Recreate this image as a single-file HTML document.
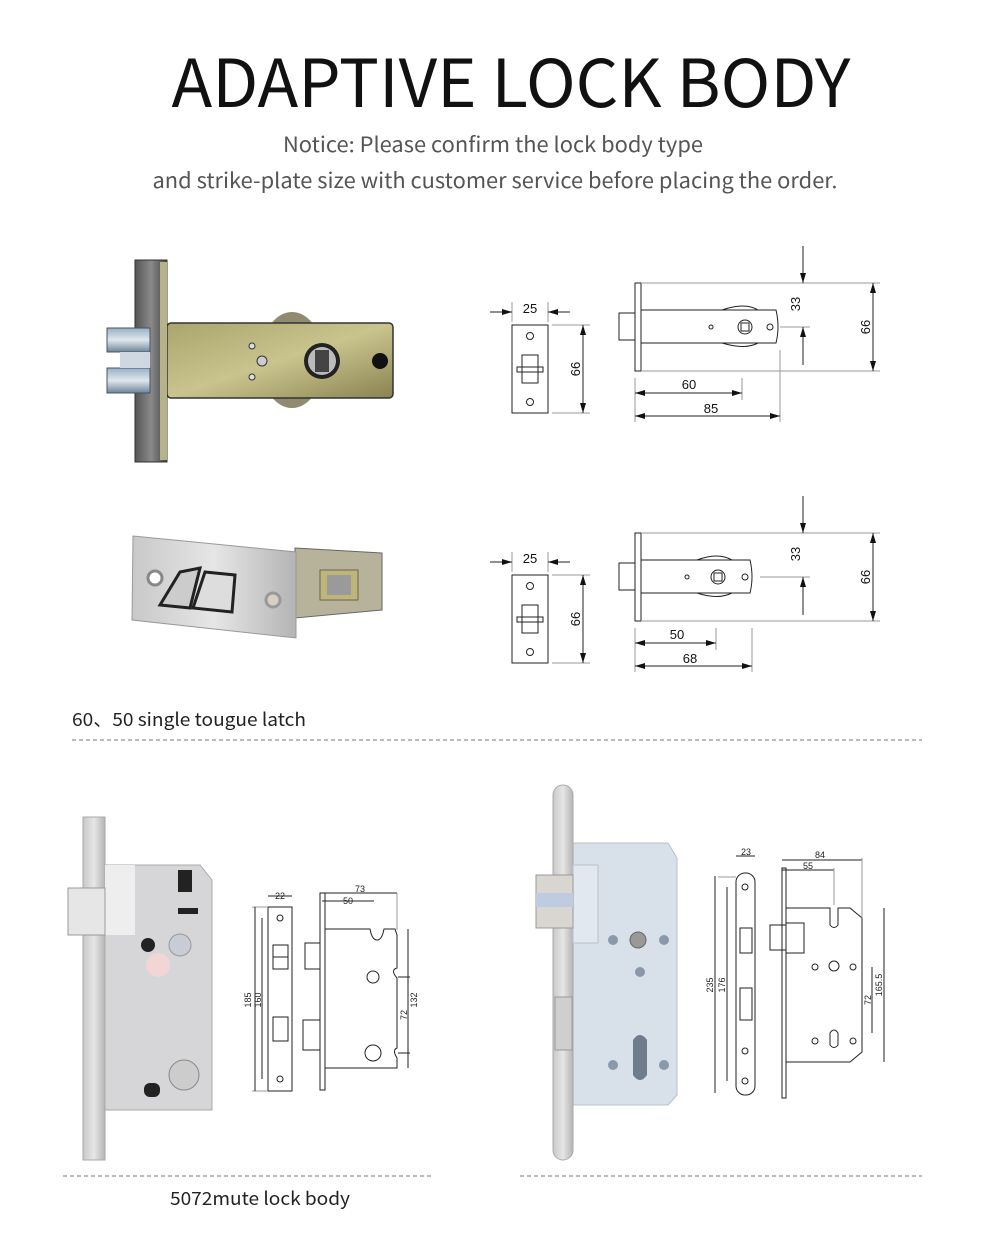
<!DOCTYPE html>
<html><head><meta charset="utf-8"><style>
html,body{margin:0;padding:0;background:#fff;}
svg{display:block;}
.cj{font-family:"Noto Sans CJK SC","Liberation Sans",sans-serif;}
</style></head><body>
<svg width="990" height="1235" viewBox="0 0 990 1235" xmlns="http://www.w3.org/2000/svg" font-family="Liberation Sans, sans-serif">
<defs>
<marker id="a" viewBox="0 0 10 6" refX="10" refY="3" markerWidth="10" markerHeight="6" markerUnits="userSpaceOnUse" orient="auto-start-reverse"><path d="M0,0L10,3L0,6z" fill="#111"/></marker>
<linearGradient id="brass" x1="0" y1="0" x2="1" y2="1"><stop offset="0" stop-color="#aaa56c"/><stop offset="0.5" stop-color="#c9c48e"/><stop offset="1" stop-color="#8a8352"/></linearGradient>
<linearGradient id="dk" x1="0" x2="1"><stop offset="0" stop-color="#555"/><stop offset="0.5" stop-color="#8a8a8a"/><stop offset="1" stop-color="#444"/></linearGradient>
<linearGradient id="chrome" x1="0" y1="0" x2="0" y2="1"><stop offset="0" stop-color="#9ab0c4"/><stop offset="0.5" stop-color="#dfe7ee"/><stop offset="1" stop-color="#6f8496"/></linearGradient>
<linearGradient id="steel" x1="0" x2="1"><stop offset="0" stop-color="#c8c8c8"/><stop offset="0.5" stop-color="#e6e6e6"/><stop offset="1" stop-color="#b4b4b4"/></linearGradient>
</defs>

<text class="cj" x="511" y="107" font-size="66" text-anchor="middle" textLength="679" lengthAdjust="spacingAndGlyphs" fill="#111">ADAPTIVE LOCK BODY</text>
<text class="cj" x="493" y="152" font-size="21" text-anchor="middle" textLength="420" lengthAdjust="spacingAndGlyphs" fill="#555">Notice: Please confirm the lock body type</text>
<text class="cj" x="495" y="188" font-size="21" text-anchor="middle" textLength="685" lengthAdjust="spacingAndGlyphs" fill="#555">and strike-plate size with customer service before placing the order.</text>

<!-- photo 1 -->
<ellipse cx="292" cy="360" rx="32" ry="48" fill="#8f8a70"/>
<rect x="167" y="323" width="226" height="75" rx="4" fill="url(#brass)" stroke="#333" stroke-width="1.5"/>
<rect x="135" y="260" width="32" height="202" fill="url(#dk)" stroke="#333"/>
<rect x="160" y="262" width="7" height="198" fill="#b7b28a"/>
<rect x="107" y="328" width="43" height="24" fill="url(#chrome)" stroke="#456"/>
<rect x="107" y="368" width="43" height="25" fill="url(#chrome)" stroke="#456"/>
<rect x="120" y="352" width="30" height="16" fill="#cfd8e0"/>
<circle cx="322" cy="361" r="18" fill="#222"/><circle cx="322" cy="361" r="14" fill="#bbb"/><rect x="315" y="350" width="14" height="22" fill="#444"/>
<circle cx="380" cy="361" r="8" fill="#111"/>
<circle cx="262" cy="361" r="5" fill="#ccc" stroke="#333"/><circle cx="252" cy="346" r="3" fill="#ddd" stroke="#333"/><circle cx="252" cy="377" r="3" fill="#ddd" stroke="#333"/>

<!-- photo 2 -->
<polygon points="295,548 382,553 382,610 295,618" fill="#b7b39b" stroke="#666"/>
<rect x="320" y="570" width="38" height="30" fill="#bfb57a" stroke="#665" />
<rect x="327" y="575" width="24" height="20" fill="#9a9a9a"/>
<polygon points="133,536 296,552 296,638 132,620" fill="url(#steel)" stroke="#999"/>
<circle cx="155" cy="578" r="7" fill="#fff" stroke="#888" stroke-width="3"/>
<circle cx="273" cy="600" r="7" fill="#d8d0c0" stroke="#999" stroke-width="3"/>
<path d="M160,605 L180,572 L200,568 L190,608 Z" fill="#ccc" stroke="#222" stroke-width="3"/>
<path d="M193,608 L205,572 L235,575 L232,612 Z" fill="#ddd" stroke="#222" stroke-width="3"/>

<!-- drawing 1 -->
<g fill="none" stroke="#222" stroke-width="1">
<rect x="512" y="325" width="36" height="88"/>
<circle cx="530" cy="336" r="3.5"/><circle cx="530" cy="402" r="3.5"/>
<path d="M522,355 h16 v28 h-16z M517,367 h26 v5 h-26z"/>
<line x1="552" y1="325" x2="590" y2="325" stroke="#999"/><line x1="552" y1="413" x2="590" y2="413" stroke="#999"/>
<line x1="583" y1="325" x2="583" y2="413" marker-start="url(#a)" marker-end="url(#a)"/>
<line x1="512" y1="302" x2="512" y2="322" stroke="#999"/><line x1="548" y1="302" x2="548" y2="322" stroke="#999"/>
<line x1="490" y1="312" x2="512" y2="312" marker-end="url(#a)"/><line x1="570" y1="312" x2="548" y2="312" marker-end="url(#a)"/>
<rect x="635" y="283" width="6" height="88"/>
<rect x="619" y="313" width="16" height="27"/>
<path d="M641,310 H776 Q780,327 776,343 H641"/>
<circle cx="745" cy="327" r="7"/><rect x="741" y="323" width="8" height="8"/><circle cx="770" cy="327" r="3"/><circle cx="711" cy="327" r="2"/>
<path d="M722,310 Q745,302 758,310 M722,343 Q745,350 758,343"/>
<line x1="641" y1="283" x2="880" y2="283" stroke="#999"/><line x1="641" y1="371" x2="880" y2="371" stroke="#999"/>
<line x1="780" y1="327" x2="810" y2="327" stroke="#999"/>
<line x1="803" y1="246" x2="803" y2="283" marker-end="url(#a)"/>
<line x1="803" y1="365" x2="803" y2="327" marker-end="url(#a)"/>
<line x1="873" y1="283" x2="873" y2="371" marker-start="url(#a)" marker-end="url(#a)"/>
<line x1="635" y1="378" x2="635" y2="422" stroke="#999"/><line x1="742" y1="378" x2="742" y2="400" stroke="#999"/><line x1="780" y1="350" x2="780" y2="422" stroke="#999"/>
<line x1="635" y1="393" x2="742" y2="393" marker-start="url(#a)" marker-end="url(#a)"/>
<line x1="635" y1="416" x2="780" y2="416" marker-start="url(#a)" marker-end="url(#a)"/>
</g>
<g font-size="13" fill="#111" text-anchor="middle">
<text x="530" y="313">25</text><text x="689" y="389">60</text><text x="711" y="413">85</text>
<text transform="translate(580,369) rotate(-90)">66</text>
<text transform="translate(800,304) rotate(-90)">33</text>
<text transform="translate(870,327) rotate(-90)">66</text>
</g>

<!-- drawing 2 -->
<g fill="none" stroke="#222" stroke-width="1" transform="translate(0,250)">
<rect x="512" y="325" width="36" height="88"/>
<circle cx="530" cy="336" r="3.5"/><circle cx="530" cy="402" r="3.5"/>
<path d="M522,355 h16 v28 h-16z M517,367 h26 v5 h-26z"/>
<line x1="552" y1="325" x2="590" y2="325" stroke="#999"/><line x1="552" y1="413" x2="590" y2="413" stroke="#999"/>
<line x1="583" y1="325" x2="583" y2="413" marker-start="url(#a)" marker-end="url(#a)"/>
<line x1="512" y1="302" x2="512" y2="322" stroke="#999"/><line x1="548" y1="302" x2="548" y2="322" stroke="#999"/>
<line x1="490" y1="312" x2="512" y2="312" marker-end="url(#a)"/><line x1="570" y1="312" x2="548" y2="312" marker-end="url(#a)"/>
<rect x="635" y="283" width="6" height="88"/>
<rect x="619" y="313" width="16" height="27"/>
<path d="M641,310 H750 Q754,327 750,343 H641"/>
<circle cx="718" cy="327" r="7"/><rect x="714" y="323" width="8" height="8"/><circle cx="745" cy="327" r="3"/><circle cx="687" cy="327" r="2"/>
<path d="M697,310 Q718,302 732,310 M697,343 Q718,350 732,343"/>
<line x1="641" y1="283" x2="880" y2="283" stroke="#999"/><line x1="641" y1="371" x2="880" y2="371" stroke="#999"/>
<line x1="760" y1="327" x2="810" y2="327" stroke="#999"/>
<line x1="803" y1="246" x2="803" y2="283" marker-end="url(#a)"/>
<line x1="803" y1="365" x2="803" y2="327" marker-end="url(#a)"/>
<line x1="873" y1="283" x2="873" y2="371" marker-start="url(#a)" marker-end="url(#a)"/>
<line x1="635" y1="378" x2="635" y2="422" stroke="#999"/><line x1="716" y1="378" x2="716" y2="400" stroke="#999"/><line x1="752" y1="378" x2="752" y2="422" stroke="#999"/>
<line x1="635" y1="393" x2="716" y2="393" marker-start="url(#a)" marker-end="url(#a)"/>
<line x1="635" y1="416" x2="752" y2="416" marker-start="url(#a)" marker-end="url(#a)"/>
</g>
<g font-size="13" fill="#111" text-anchor="middle">
<text x="530" y="563">25</text><text x="677" y="639">50</text><text x="690" y="663">68</text>
<text transform="translate(580,619) rotate(-90)">66</text>
<text transform="translate(800,554) rotate(-90)">33</text>
<text transform="translate(870,577) rotate(-90)">66</text>
</g>

<text class="cj" x="72" y="726" font-size="18" fill="#222" textLength="234" lengthAdjust="spacingAndGlyphs">60、50 single tougue latch</text>
<line x1="72" y1="740" x2="922" y2="740" stroke="#777" stroke-dasharray="4,3"/>

<!-- photo 3 -->
<polygon points="105,865 200,865 212,880 212,1110 105,1110" fill="#d6d6d8" stroke="#aaa"/>
<rect x="83" y="817" width="22" height="343" fill="url(#steel)" stroke="#aaa"/>
<rect x="105" y="865" width="30" height="70" fill="#eeeeee"/>
<rect x="68" y="888" width="37" height="47" fill="#e6e6e6" stroke="#999"/>
<circle cx="180" cy="945" r="11" fill="#c8ccd4" stroke="#999"/>
<circle cx="148" cy="945" r="7" fill="#222"/>
<circle cx="158" cy="965" r="12" fill="#f2d6d6"/>
<rect x="178" y="908" width="20" height="6" fill="#222"/>
<rect x="178" y="870" width="14" height="22" fill="#222"/>
<circle cx="184" cy="1075" r="15" fill="#ccc" stroke="#888"/>
<rect x="144" y="1083" width="16" height="14" rx="6" fill="#222"/>

<!-- drawing 3 -->
<g fill="none" stroke="#222" stroke-width="1">
<rect x="268" y="907" width="24" height="184"/>
<circle cx="280" cy="918" r="3"/><circle cx="280" cy="1079" r="3"/>
<rect x="273" y="945" width="15" height="24"/><line x1="273" y1="957" x2="288" y2="957"/>
<rect x="273" y="1017" width="15" height="24"/>
<line x1="252" y1="907" x2="268" y2="907" stroke="#999"/><line x1="252" y1="1091" x2="268" y2="1091" stroke="#999"/>
<line x1="255" y1="907" x2="255" y2="1091"/>
<line x1="262" y1="918" x2="262" y2="1079"/>
<line x1="268" y1="896" x2="292" y2="896"/>
<rect x="320" y="893" width="5" height="197"/>
<path d="M325,929 H370 Q372,940 377,940 Q382,940 384,929 H395 L397,935 V968 Q390,970 397,978 V1048 Q392,1050 397,1058 V1068 H325"/>
<rect x="305" y="943" width="15" height="26"/><rect x="303" y="1020" width="17" height="30"/>
<circle cx="373" cy="977" r="6"/><circle cx="373" cy="1053" r="8"/>
<line x1="322" y1="893" x2="397" y2="893"/><line x1="322" y1="901" x2="374" y2="901"/>
<line x1="397" y1="893" x2="397" y2="930" stroke="#999"/>
<line x1="408" y1="929" x2="408" y2="1068"/><line x1="398" y1="977" x2="410" y2="977"/><line x1="398" y1="1053" x2="410" y2="1053"/>
</g>
<g font-size="9" fill="#222" text-anchor="middle">
<text x="280" y="899">22</text><text x="360" y="892">73</text><text x="348" y="904">50</text>
<text transform="translate(251,1000) rotate(-90)">185</text>
<text transform="translate(261,1000) rotate(-90)">160</text>
<text transform="translate(407,1015) rotate(-90)">72</text>
<text transform="translate(417,1000) rotate(-90)">132</text>
</g>

<!-- photo 4 -->
<polygon points="573,843 668,843 677,858 677,1095 668,1105 573,1105" fill="#d8e0ea" stroke="#b8c0ca"/>
<rect x="553" y="785" width="20" height="375" rx="10" fill="url(#steel)" stroke="#aaa"/>
<rect x="573" y="865" width="25" height="78" fill="#e2e8f0" stroke="#b8c0ca"/>
<rect x="536" y="875" width="37" height="53" fill="#d9d6d2" stroke="#999"/>
<rect x="536" y="893" width="37" height="14" fill="#bfcbe0"/>
<circle cx="638" cy="940" r="8" fill="#999" stroke="#666"/>
<circle cx="613" cy="940" r="5" fill="#8a98aa"/><circle cx="664" cy="940" r="5" fill="#8a98aa"/><circle cx="640" cy="972" r="5" fill="#8a98aa"/>
<circle cx="613" cy="1065" r="5" fill="#8a98aa"/><circle cx="664" cy="1065" r="5" fill="#8a98aa"/>
<path d="M633,1040 Q640,1030 647,1040 V1075 Q640,1085 633,1075 Z" fill="#6f7c8c"/>
<rect x="555" y="997" width="17" height="53" fill="#cfcfcf" stroke="#999"/>

<!-- drawing 4 -->
<g fill="none" stroke="#222" stroke-width="1">
<rect x="736" y="873" width="19" height="222" rx="9"/>
<circle cx="745" cy="887" r="3"/><circle cx="745" cy="1051" r="3"/><circle cx="745" cy="1081" r="3"/>
<rect x="740" y="928" width="12" height="25"/><rect x="740" y="988" width="12" height="32"/>
<line x1="718" y1="877" x2="736" y2="877" stroke="#999"/>
<line x1="715" y1="876" x2="715" y2="1093"/><line x1="727" y1="887" x2="727" y2="1081"/>
<line x1="736" y1="856" x2="755" y2="856"/>
<rect x="782" y="868" width="4" height="230"/>
<path d="M786,908 H830 V925 Q834,930 838,925 V908 H850 L862,918 V1052 L850,1062 H786"/>
<rect x="770" y="925" width="16" height="25"/><rect x="786" y="923" width="18" height="30"/>
<circle cx="834" cy="966" r="5"/><circle cx="815" cy="967" r="3"/><circle cx="853" cy="967" r="3"/>
<path d="M830,1033 Q834,1027 838,1033 V1045 Q834,1050 830,1045 Z"/>
<circle cx="815" cy="1041" r="3"/><circle cx="853" cy="1041" r="3"/>
<line x1="782" y1="860" x2="862" y2="860"/><line x1="782" y1="870" x2="834" y2="870"/>
<line x1="862" y1="858" x2="862" y2="918" stroke="#999"/><line x1="834" y1="868" x2="834" y2="905" stroke="#999"/>
<line x1="872" y1="967" x2="872" y2="1033"/><line x1="884" y1="908" x2="884" y2="1062"/>
</g>
<g font-size="9" fill="#222" text-anchor="middle">
<text x="746" y="855">23</text><text x="820" y="858">84</text><text x="808" y="869">55</text>
<text transform="translate(713,985) rotate(-90)">235</text>
<text transform="translate(725,985) rotate(-90)">176</text>
<text transform="translate(871,1000) rotate(-90)">72</text>
<text transform="translate(882,985) rotate(-90)">165.5</text>
</g>

<line x1="63" y1="1176" x2="432" y2="1176" stroke="#777" stroke-dasharray="4,3"/>
<line x1="520" y1="1176" x2="922" y2="1176" stroke="#777" stroke-dasharray="4,3"/>
<text class="cj" x="170" y="1205" font-size="18" fill="#222" textLength="180" lengthAdjust="spacingAndGlyphs">5072mute lock body</text>
</svg>
</body></html>
